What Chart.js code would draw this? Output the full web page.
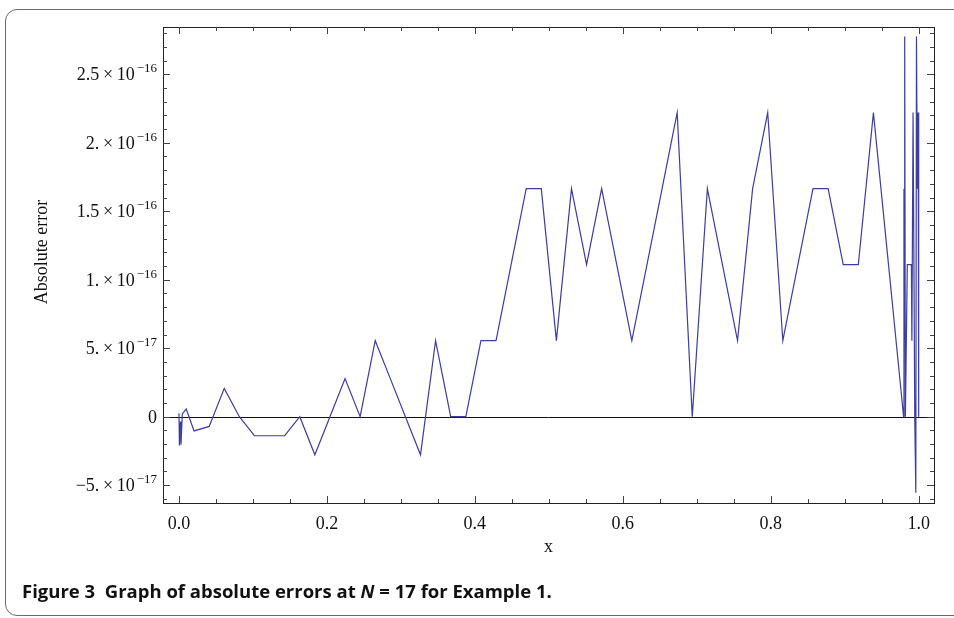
<!DOCTYPE html>
<html>
<head>
<meta charset="utf-8">
<script src="https://cdn.jsdelivr.net/npm/chart.js@4.4.1/dist/chart.umd.min.js"></script>
<style>
  html, body { margin: 0; padding: 0; background: #fff; }
  body { width: 954px; height: 618px; position: relative; overflow: hidden; }
  #cadre {
    position: absolute; left: 5px; top: 9px; width: 1000px; height: 607px;
    border: 1px solid #6a6a6a; border-radius: 12px; box-sizing: border-box;
  }
  #grafico { position: absolute; left: 0; top: 0; }
  #legenda {
    position: absolute; left: 22px; top: 578px;
    font-family: "Open Sans", sans-serif; font-weight: bold; font-size: 18.5px;
    letter-spacing: 0; color: #111; white-space: nowrap;
  }
</style>
</head>
<body>
<div id="cadre"></div>
<canvas id="grafico" width="954" height="618"></canvas>
<div id="legenda">Figure 3&nbsp;&nbsp;Graph of absolute errors at <i>N</i> = 17 for Example 1.</div>
<script>
// pontos x (amostragem do Plot) e erro absoluto em cada ponto
var pontos_x = [
    0, 0.0006, 0.0020, 0.0027, 0.0045, 0.0098,
    0.0204, 0.0408, 0.0612, 0.0816, 0.1020, 0.1224, 0.1429, 0.1633, 0.1837,
    0.2041, 0.2245, 0.2449, 0.2653, 0.2857, 0.3061, 0.3265, 0.3469, 0.3673,
    0.3878, 0.4082, 0.4286, 0.4490, 0.4694, 0.4898, 0.5102, 0.5306, 0.5510,
    0.5714, 0.5918, 0.6122, 0.6327, 0.6531, 0.6735, 0.6939, 0.7143, 0.7347,
    0.7551, 0.7755, 0.7959, 0.8163, 0.8367, 0.8571, 0.8776, 0.8980, 0.9184,
    0.9388, 0.9592, 0.9796,
    0.9801, 0.9805, 0.9811, 0.9820, 0.9846, 0.9901, 0.9908, 0.9924, 0.9947,
    0.9961, 0.9970, 0.9982, 0.9993, 1.0
];
var erros = [
    2.5e-18, -2.1e-17, -3.5e-18, -2.05e-17, 2e-18, 5.6e-18,
    -1.04e-17, -7.1e-18, 2.07e-17, 0, -1.39e-17, -1.39e-17, -1.39e-17, 0, -2.78e-17,
    0, 2.78e-17, 0, 5.55e-17, 2.78e-17, 0, -2.78e-17, 5.55e-17, 0,
    0, 5.55e-17, 5.55e-17, 1.11e-16, 1.665e-16, 1.665e-16, 5.55e-17, 1.665e-16, 1.11e-16,
    1.665e-16, 1.11e-16, 5.55e-17, 1.11e-16, 1.665e-16, 2.22e-16, 0, 1.665e-16, 1.11e-16,
    5.55e-17, 1.665e-16, 2.22e-16, 5.55e-17, 1.11e-16, 1.665e-16, 1.665e-16, 1.11e-16, 1.11e-16,
    2.22e-16, 1.11e-16, 0,
    1.665e-16, 5.55e-17, 2.776e-16, 0, 1.11e-16, 1.11e-16, 5.55e-17, 2.22e-16, 0,
    -5.55e-17, 2.776e-16, 1.665e-16, 2.22e-16, 0
];

// marcas dos eixos
var x_ticks = [0, 0.2, 0.4, 0.6, 0.8, 1.0];
var x_rotulos = ['0.0', '0.2', '0.4', '0.6', '0.8', '1.0'];
var y_ticks = [-5e-17, 0, 5e-17, 1e-16, 1.5e-16, 2e-16, 2.5e-16];
var y_mantissa = ['\u22125.', '0', '5.', '1.', '1.5', '2.', '2.5'];
var y_expoente = ['\u221217', '', '\u221217', '\u221216', '\u221216', '\u221216', '\u221216'];

var fonte_serif = '"Liberation Serif", "DejaVu Serif", serif';

var pontos = pontos_x.map(function (x, i) { return { x: x, y: erros[i] }; });

// moldura, marcas, linha do zero e rotulos (estilo Mathematica)
var moldura = {
    id: 'moldura',
    beforeDatasetsDraw: function (chart) {
        var ctx = chart.ctx, a = chart.chartArea, sy = chart.scales.y;
        var y0 = Math.round(sy.getPixelForValue(0)) + 0.5;
        ctx.save();
        ctx.strokeStyle = '#111';
        ctx.lineWidth = 1;
        ctx.beginPath();
        ctx.moveTo(a.left, y0);
        ctx.lineTo(a.right, y0);
        ctx.stroke();
        ctx.restore();
    },
    afterDraw: function (chart) {
        var ctx = chart.ctx, a = chart.chartArea;
        var sx = chart.scales.x, sy = chart.scales.y;
        ctx.save();
        ctx.strokeStyle = '#222';
        ctx.lineWidth = 1;
        ctx.strokeRect(Math.round(a.left) + 0.5, Math.round(a.top) + 0.5,
            Math.round(a.right - a.left), Math.round(a.bottom - a.top));

        ctx.strokeStyle = '#444';
        ctx.beginPath();
        // x: maiores a cada 0.2, menores a cada 0.05
        for (var k = 0; k <= 20; k++) {
            var px = Math.round(sx.getPixelForValue(k * 0.05)) + 0.5;
            var len = (k % 4 === 0) ? 7 : 4;
            ctx.moveTo(px, a.bottom); ctx.lineTo(px, a.bottom - len);
            ctx.moveTo(px, a.top); ctx.lineTo(px, a.top + len);
        }
        // y: maiores a cada 5e-17, menores a cada 1e-17
        for (var j = -6; j <= 28; j++) {
            var py = Math.round(sy.getPixelForValue(j * 1e-17)) + 0.5;
            var leny = (j % 5 === 0) ? 7 : 4;
            ctx.moveTo(a.left, py); ctx.lineTo(a.left + leny, py);
            ctx.moveTo(a.right, py); ctx.lineTo(a.right - leny, py);
        }
        ctx.stroke();

        ctx.fillStyle = '#111';
        // rotulos x
        ctx.font = '18px ' + fonte_serif;
        ctx.textAlign = 'center';
        ctx.textBaseline = 'alphabetic';
        x_ticks.forEach(function (v, i) {
            ctx.fillText(x_rotulos[i], sx.getPixelForValue(v), a.bottom + 26);
        });

        // rotulos y com expoente sobrescrito
        y_ticks.forEach(function (v, i) {
            var py = sy.getPixelForValue(v);
            var base = y_expoente[i] ? y_mantissa[i] + '\u2009\u00d7\u200910' : y_mantissa[i];
            ctx.font = '18px ' + fonte_serif;
            var w1 = ctx.measureText(base).width;
            ctx.font = '13px ' + fonte_serif;
            var w2 = y_expoente[i] ? ctx.measureText(y_expoente[i]).width + 2 : 0;
            var direita = a.left - 6;
            ctx.textAlign = 'left';
            ctx.font = '18px ' + fonte_serif;
            ctx.fillText(base, direita - w1 - w2, py + 6);
            if (y_expoente[i]) {
                ctx.font = '13px ' + fonte_serif;
                ctx.fillText(y_expoente[i], direita - w2 + 2, py - 2);
            }
        });

        // titulos dos eixos
        ctx.font = '18px ' + fonte_serif;
        ctx.textAlign = 'center';
        ctx.fillText('x', (a.left + a.right) / 2, 552);
        ctx.translate(47, 252);
        ctx.rotate(-Math.PI / 2);
        ctx.fillText('Absolute error', 0, 0);
        ctx.restore();
    }
};

var ctx_erro = document.getElementById('grafico').getContext('2d');

var grafico_erro = new Chart(ctx_erro, {
    type: 'scatter',
    data: {
        datasets: [{
            label: 'Absolute error',
            data: pontos,
            showLine: true,
            borderColor: '#3d3da2',
            borderWidth: 1.2,
            pointRadius: 0,
            tension: 0
        }]
    },
    options: {
        responsive: false,
        animation: false,
        layout: { padding: { top: 27, right: 20, left: 0, bottom: 0 } },
        scales: {
            x: {
                type: 'linear',
                min: -0.0216,
                max: 1.0207,
                grid: { display: false },
                border: { display: false },
                ticks: { display: false },
                afterFit: function (scale) { scale.height = 115; }
            },
            y: {
                type: 'linear',
                min: -6.3e-17,
                max: 2.845e-16,
                grid: { display: false },
                border: { display: false },
                ticks: { display: false },
                afterFit: function (scale) { scale.width = 163; }
            }
        },
        plugins: {
            legend: { display: false },
            tooltip: { enabled: false }
        }
    },
    plugins: [moldura]
});
</script>
</body>
</html>
